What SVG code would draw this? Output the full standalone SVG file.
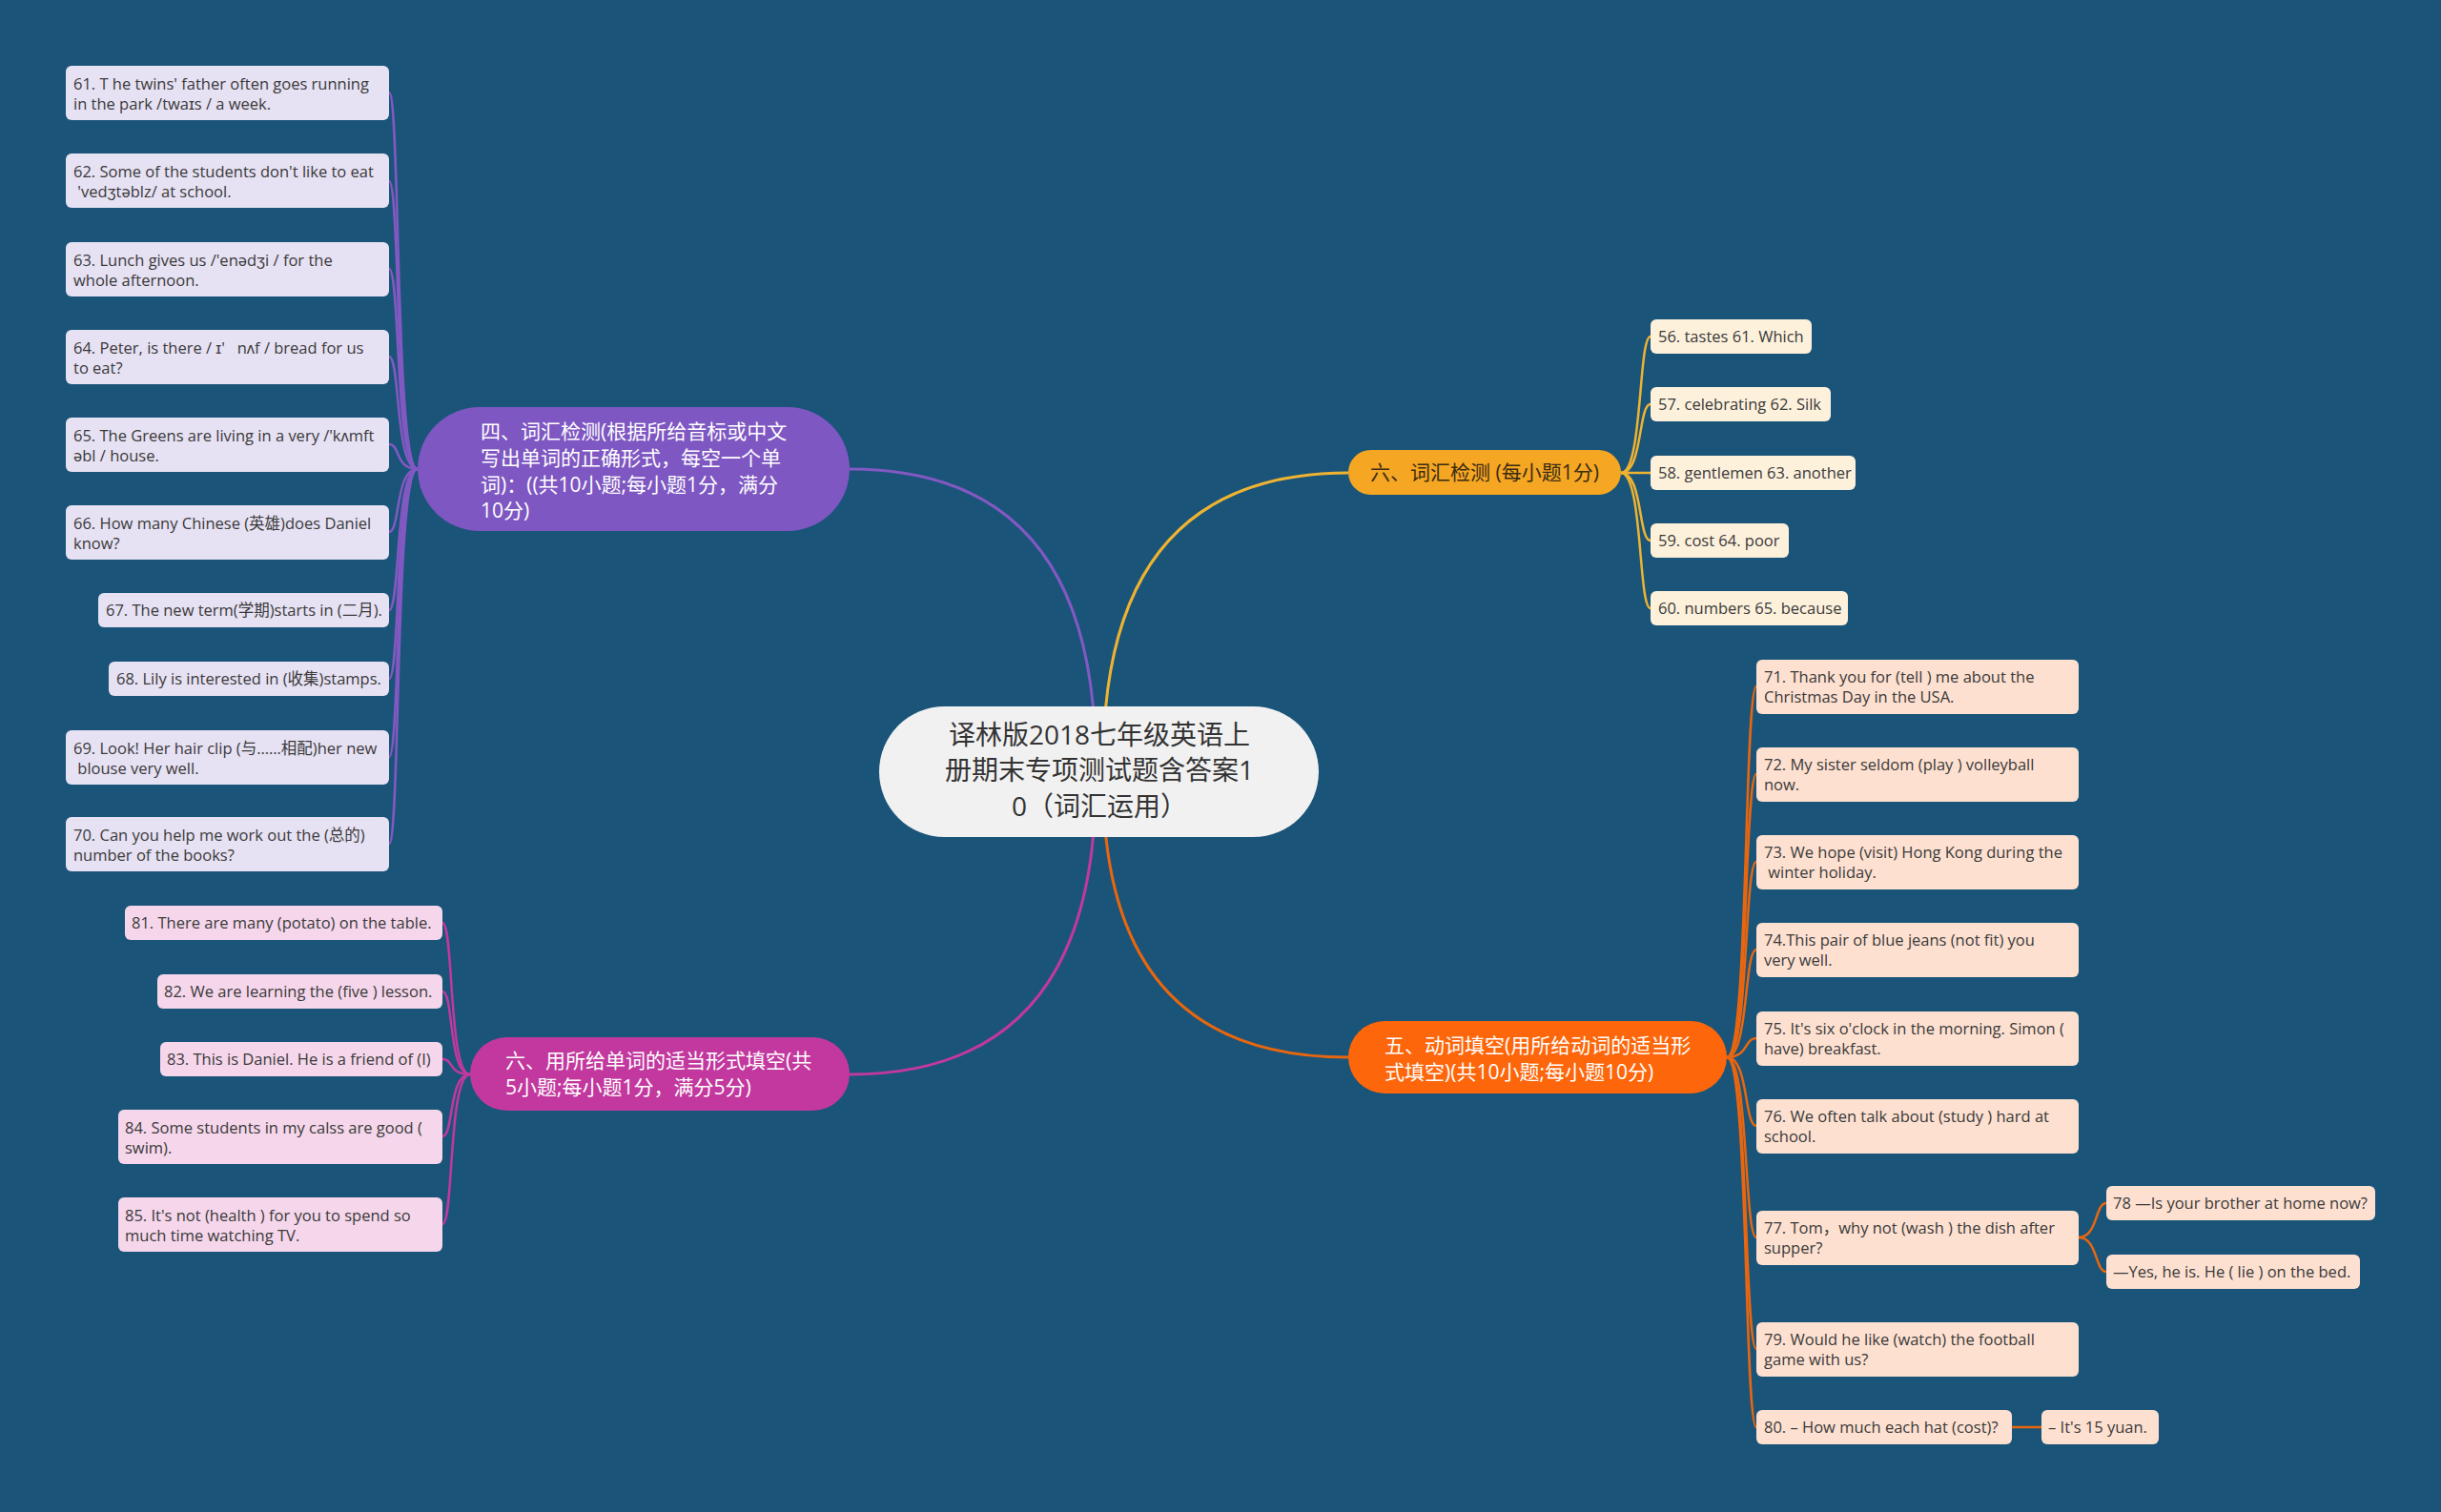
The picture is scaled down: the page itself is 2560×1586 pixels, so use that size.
<svg xmlns="http://www.w3.org/2000/svg" width="2560" height="1586" viewBox="0 0 2560 1586">
<style>
.bg{fill:#1a5479}
.t{font-family:"Open Sans","Noto Sans CJK SC",sans-serif;font-size:16.5px;fill:#3a3a3a}
.n{font-family:"Open Sans","Noto Sans CJK SC",sans-serif;font-size:21px;fill:#ffffff}
.c{font-family:"Open Sans","Noto Sans CJK SC",sans-serif;font-size:28px;fill:#333333;text-anchor:middle}
.lav{fill:#e6e1f3}
.pink{fill:#f5d6ea}
.peach{fill:#fde0d0}
.cream{fill:#fdf1dc}
.cp{fill:none;stroke:#8259c2;stroke-width:2.5}
.cm{fill:none;stroke:#c2389e;stroke-width:2.5}
.cy{fill:none;stroke:#efb331;stroke-width:2.5}
.co{fill:none;stroke:#e8660f;stroke-width:2.5}
.main{stroke-width:3}
</style>
<rect class="bg" x="0" y="0" width="2560" height="1586"/>
<g id="connectors">
<path class="cp main" d="M1149,800 Q1149,492 891,492"/>
<path class="cy main" d="M1157,800 Q1157,496 1414,496"/>
<path class="cm main" d="M1149,820 Q1149,1127 891,1127"/>
<path class="co main" d="M1157,820 Q1157,1109 1414,1109"/>
<path class="cp" d="M438,492 C414,492 420,97 408,97"/>
<path class="cp" d="M438,492 C414,492 420,190 408,190"/>
<path class="cp" d="M438,492 C414,492 420,282 408,282"/>
<path class="cp" d="M438,492 C414,492 420,374 408,374"/>
<path class="cp" d="M438,492 C414,492 420,466 408,466"/>
<path class="cp" d="M438,492 C414,492 420,558 408,558"/>
<path class="cp" d="M438,492 C414,492 420,640 408,640"/>
<path class="cp" d="M438,492 C414,492 420,712 408,712"/>
<path class="cp" d="M438,492 C414,492 420,794 408,794"/>
<path class="cp" d="M438,492 C414,492 420,885 408,885"/>
<path class="cm" d="M493,1127 C470,1127 476,968 464,968"/>
<path class="cm" d="M493,1127 C470,1127 476,1040 464,1040"/>
<path class="cm" d="M493,1127 C470,1127 476,1111 464,1111"/>
<path class="cm" d="M493,1127 C470,1127 476,1192 464,1192"/>
<path class="cm" d="M493,1127 C470,1127 476,1284 464,1284"/>
<path class="cy" d="M1700,496 C1723,496 1718,353 1731,353"/>
<path class="cy" d="M1700,496 C1723,496 1718,424 1731,424"/>
<path class="cy" d="M1700,496 C1723,496 1718,496 1731,496"/>
<path class="cy" d="M1700,496 C1723,496 1718,567 1731,567"/>
<path class="cy" d="M1700,496 C1723,496 1718,638 1731,638"/>
<path class="co" d="M1811,1109 C1834,1109 1829,720 1842,720"/>
<path class="co" d="M1811,1109 C1834,1109 1829,812 1842,812"/>
<path class="co" d="M1811,1109 C1834,1109 1829,904 1842,904"/>
<path class="co" d="M1811,1109 C1834,1109 1829,996 1842,996"/>
<path class="co" d="M1811,1109 C1834,1109 1829,1089 1842,1089"/>
<path class="co" d="M1811,1109 C1834,1109 1829,1181 1842,1181"/>
<path class="co" d="M1811,1109 C1834,1109 1829,1298 1842,1298"/>
<path class="co" d="M1811,1109 C1834,1109 1829,1415 1842,1415"/>
<path class="co" d="M1811,1109 C1834,1109 1829,1497 1842,1497"/>
<path class="co" d="M2180,1298 C2200,1298 2197,1262 2209,1262"/>
<path class="co" d="M2180,1298 C2200,1298 2197,1334 2209,1334"/>
<path class="co" d="M2110,1497 L2141,1497"/>
</g>
<g id="center">
<rect x="922" y="741" width="461" height="137" rx="68.5" fill="#f1f1f1"/>
<text class="c" x="1153" y="781">译林版2018七年级英语上</text>
<text class="c" x="1153" y="818">册期末专项测试题含答案1</text>
<text class="c" x="1153" y="856">0（词汇运用）</text>
</g>
<g id="branch-vocab">
<rect x="438" y="427" width="453" height="130" rx="65" fill="#7e57c2"/>
<text class="n" x="504" y="460">四、词汇检测(根据所给音标或中文</text>
<text class="n" x="504" y="488">写出单词的正确形式，每空一个单</text>
<text class="n" x="504" y="516">词)：((共10小题;每小题1分，满分</text>
<text class="n" x="504" y="543">10分)</text>
</g>
<g id="n61"><rect class="lav" x="69" y="69" width="339" height="57" rx="6"/><text class="t" x="77" y="94">61. T he twins' father often goes running</text><text class="t" x="77" y="115">in the park /twaɪs / a week.</text></g>
<g id="n62"><rect class="lav" x="69" y="161" width="339" height="57" rx="6"/><text class="t" x="77" y="186">62. Some of the students don't like to eat</text><text class="t" x="77" y="207" xml:space="preserve"> 'vedʒtəblz/ at school.</text></g>
<g id="n63"><rect class="lav" x="69" y="254" width="339" height="57" rx="6"/><text class="t" x="77" y="279">63. Lunch gives us /'enədʒi / for the</text><text class="t" x="77" y="300">whole afternoon.</text></g>
<g id="n64"><rect class="lav" x="69" y="346" width="339" height="57" rx="6"/><text class="t" x="77" y="371" xml:space="preserve">64. Peter, is there / ɪ'   nʌf / bread for us</text><text class="t" x="77" y="392">to eat?</text></g>
<g id="n65"><rect class="lav" x="69" y="438" width="339" height="57" rx="6"/><text class="t" x="77" y="463">65. The Greens are living in a very /'kʌmft</text><text class="t" x="77" y="484">əbl / house.</text></g>
<g id="n66"><rect class="lav" x="69" y="530" width="339" height="57" rx="6"/><text class="t" x="77" y="555">66. How many Chinese (英雄)does Daniel</text><text class="t" x="77" y="576">know?</text></g>
<g id="n67"><rect class="lav" x="103" y="622" width="305" height="36" rx="6"/><text class="t" x="111" y="646">67. The new term(学期)starts in (二月).</text></g>
<g id="n68"><rect class="lav" x="114" y="694" width="294" height="36" rx="6"/><text class="t" x="122" y="718">68. Lily is interested in (收集)stamps.</text></g>
<g id="n69"><rect class="lav" x="69" y="766" width="339" height="57" rx="6"/><text class="t" x="77" y="791">69. Look! Her hair clip (与……相配)her new</text><text class="t" x="77" y="812" xml:space="preserve"> blouse very well.</text></g>
<g id="n70"><rect class="lav" x="69" y="857" width="339" height="57" rx="6"/><text class="t" x="77" y="882">70. Can you help me work out the (总的)</text><text class="t" x="77" y="903">number of the books?</text></g>
<g id="branch-forms">
<rect x="493" y="1088" width="398" height="77" rx="38.5" fill="#c2389e"/>
<text class="n" x="530" y="1120">六、用所给单词的适当形式填空(共</text>
<text class="n" x="530" y="1148">5小题;每小题1分，满分5分)</text>
</g>
<g id="n81"><rect class="pink" x="131" y="950" width="333" height="36" rx="6"/><text class="t" x="138" y="974">81. There are many (potato) on the table.</text></g>
<g id="n82"><rect class="pink" x="165" y="1022" width="299" height="36" rx="6"/><text class="t" x="172" y="1046">82. We are learning the (five ) lesson.</text></g>
<g id="n83"><rect class="pink" x="168" y="1093" width="296" height="36" rx="6"/><text class="t" x="175" y="1117">83. This is Daniel. He is a friend of (I)</text></g>
<g id="n84"><rect class="pink" x="124" y="1164" width="340" height="57" rx="6"/><text class="t" x="131" y="1189">84. Some students in my calss are good (</text><text class="t" x="131" y="1210">swim).</text></g>
<g id="n85"><rect class="pink" x="124" y="1256" width="340" height="57" rx="6"/><text class="t" x="131" y="1281">85. It's not (health ) for you to spend so</text><text class="t" x="131" y="1302">much time watching TV.</text></g>
<g id="branch-answers">
<rect x="1414" y="472" width="286" height="47" rx="23.5" fill="#f5a623"/>
<text class="n" x="1557" y="503" text-anchor="middle" style="fill:#3b2c12">六、词汇检测 (每小题1分)</text>
</g>
<g id="n56"><rect class="cream" x="1731" y="335" width="169" height="36" rx="6"/><text class="t" x="1739" y="359">56. tastes 61. Which</text></g>
<g id="n57"><rect class="cream" x="1731" y="406" width="189" height="36" rx="6"/><text class="t" x="1739" y="430">57. celebrating 62. Silk</text></g>
<g id="n58"><rect class="cream" x="1731" y="478" width="215" height="36" rx="6"/><text class="t" x="1739" y="502">58. gentlemen 63. another</text></g>
<g id="n59"><rect class="cream" x="1731" y="549" width="145" height="36" rx="6"/><text class="t" x="1739" y="573">59. cost 64. poor</text></g>
<g id="n60"><rect class="cream" x="1731" y="620" width="207" height="36" rx="6"/><text class="t" x="1739" y="644">60. numbers 65. because</text></g>
<g id="branch-verbs">
<rect x="1414" y="1071" width="397" height="76" rx="38" fill="#fd660a"/>
<text class="n" x="1452" y="1104">五、动词填空(用所给动词的适当形</text>
<text class="n" x="1452" y="1132">式填空)(共10小题;每小题10分)</text>
</g>
<g id="n71"><rect class="peach" x="1842" y="692" width="338" height="57" rx="6"/><text class="t" x="1850" y="716">71. Thank you for (tell ) me about the</text><text class="t" x="1850" y="737">Christmas Day in the USA.</text></g>
<g id="n72"><rect class="peach" x="1842" y="784" width="338" height="57" rx="6"/><text class="t" x="1850" y="808">72. My sister seldom (play ) volleyball</text><text class="t" x="1850" y="829">now.</text></g>
<g id="n73"><rect class="peach" x="1842" y="876" width="338" height="57" rx="6"/><text class="t" x="1850" y="900">73. We hope (visit) Hong Kong during the</text><text class="t" x="1850" y="921" xml:space="preserve"> winter holiday.</text></g>
<g id="n74"><rect class="peach" x="1842" y="968" width="338" height="57" rx="6"/><text class="t" x="1850" y="992">74.This pair of blue jeans (not fit) you</text><text class="t" x="1850" y="1013">very well.</text></g>
<g id="n75"><rect class="peach" x="1842" y="1061" width="338" height="57" rx="6"/><text class="t" x="1850" y="1085">75. It's six o'clock in the morning. Simon (</text><text class="t" x="1850" y="1106">have) breakfast.</text></g>
<g id="n76"><rect class="peach" x="1842" y="1153" width="338" height="57" rx="6"/><text class="t" x="1850" y="1177">76. We often talk about (study ) hard at</text><text class="t" x="1850" y="1198">school.</text></g>
<g id="n77"><rect class="peach" x="1842" y="1270" width="338" height="57" rx="6"/><text class="t" x="1850" y="1294">77. Tom，why not (wash ) the dish after</text><text class="t" x="1850" y="1315">supper?</text></g>
<g id="n78"><rect class="peach" x="2209" y="1244" width="282" height="36" rx="6"/><text class="t" x="2216" y="1268">78 —Is your brother at home now?</text></g>
<g id="n78b"><rect class="peach" x="2209" y="1316" width="266" height="36" rx="6"/><text class="t" x="2216" y="1340">—Yes, he is. He ( lie ) on the bed.</text></g>
<g id="n79"><rect class="peach" x="1842" y="1387" width="338" height="57" rx="6"/><text class="t" x="1850" y="1411">79. Would he like (watch) the football</text><text class="t" x="1850" y="1432">game with us?</text></g>
<g id="n80"><rect class="peach" x="1842" y="1479" width="268" height="36" rx="6"/><text class="t" x="1850" y="1503">80. – How much each hat (cost)?</text></g>
<g id="n80b"><rect class="peach" x="2141" y="1479" width="123" height="36" rx="6"/><text class="t" x="2148" y="1503">– It's 15 yuan.</text></g>
</svg>
